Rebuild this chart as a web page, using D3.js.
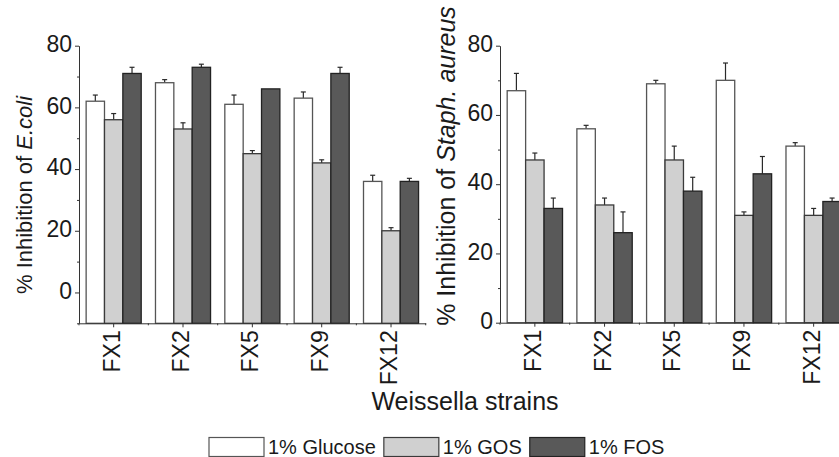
<!DOCTYPE html>
<html>
<head>
<meta charset="utf-8">
<script src="https://cdn.jsdelivr.net/npm/d3@7/dist/d3.min.js"></script>
<style>
body{margin:0;background:#fff;}
svg text{font-family:"Liberation Sans", Arial, sans-serif;fill:#1a1a1a;white-space:pre;}
</style>
</head>
<body>
<div id="chart"></div>
<script>
// strains and sugar treatments
var strains = ["FX1", "FX2", "FX5", "FX9", "FX12"];
var sugars = ["1% Glucose", "1% GOS", "1% FOS"];

// % inhibition of E.coli (left panel), upper error bar size
var ecoliGlucose = [62, 68, 61, 63, 36];
var ecoliGOS = [56, 53, 45, 42, 20];
var ecoliFOS = [71, 73, 66, 71, 36];
var ecoliGlucoseErr = [2, 1, 3, 2, 2];
var ecoliGOSErr = [2, 2, 1, 1, 1];
var ecoliFOSErr = [2, 1, 0, 2, 1];

// % inhibition of Staph. aureus (right panel)
var staphGlucose = [67, 56, 69, 70, 51];
var staphGOS = [47, 34, 47, 31, 31];
var staphFOS = [33, 26, 38, 43, 35];
var staphGlucoseErr = [5, 1, 1, 5, 1];
var staphGOSErr = [2, 2, 4, 1, 2];
var staphFOSErr = [3, 6, 4, 5, 1];

var yTicks = [0, 20, 40, 60, 80];
var ecoliMinor = [-10, 10, 30, 50, 70];
var staphMinor = [10, 30, 50, 70];

var WIDTH = 839, HEIGHT = 457;
var FILLS = ["#ffffff", "#d0d0d0", "#595959"];
var STROKES = ["#555555", "#3a3a3a", "#222222"];
var AXIS = "#333";

var svg = d3.select("#chart").append("svg")
	.attr("width", WIDTH)
	.attr("height", HEIGHT);

function panel(cfg){
	var g = svg.append("g");
	var x = d3.scaleBand().domain(strains).range([cfg.left, cfg.right]);
	var bw = x.bandwidth();
	var xs = d3.scaleBand().domain(sugars).range([bw * 0.103, bw * 0.897]);
	var y = d3.scaleLinear().domain(cfg.domain).range([cfg.bottom, cfg.top]);

	var rows = [];
	strains.forEach(function(s, i){
		sugars.forEach(function(k, j){
			rows.push({strain: s, sugar: k, j: j, v: cfg.values[j][i], e: cfg.errors[j][i]});
		});
	});

	// error bars first so the bar outline sits over the stem
	var eb = g.append("g").selectAll("g").data(rows.filter(function(d){ return d.e > 0; }))
		.enter().append("g")
		.attr("stroke", "#2a2a2a").attr("stroke-width", 1.2);
	eb.append("line")
		.attr("x1", function(d){ return x(d.strain) + xs(d.sugar) + xs.bandwidth() / 2; })
		.attr("x2", function(d){ return x(d.strain) + xs(d.sugar) + xs.bandwidth() / 2; })
		.attr("y1", function(d){ return y(d.v); })
		.attr("y2", function(d){ return y(d.v + d.e); });
	eb.append("line")
		.attr("x1", function(d){ return x(d.strain) + xs(d.sugar) + xs.bandwidth() / 2 - 2.5; })
		.attr("x2", function(d){ return x(d.strain) + xs(d.sugar) + xs.bandwidth() / 2 + 2.5; })
		.attr("y1", function(d){ return y(d.v + d.e); })
		.attr("y2", function(d){ return y(d.v + d.e); });

	g.append("g").selectAll("rect").data(rows)
		.enter().append("rect")
		.attr("x", function(d){ return x(d.strain) + xs(d.sugar); })
		.attr("width", xs.bandwidth())
		.attr("y", function(d){ return y(d.v); })
		.attr("height", function(d){ return cfg.bottom - y(d.v); })
		.attr("fill", function(d){ return FILLS[d.j]; })
		.attr("stroke", function(d){ return STROKES[d.j]; })
		.attr("stroke-width", 1.3);

	// y axis
	var ya = g.append("g").attr("transform", "translate(" + cfg.left + ",0)")
		.call(d3.axisLeft(y).tickValues(yTicks).tickSize(4).tickSizeOuter(0).tickPadding(3));
	ya.selectAll("text").attr("font-size", 23).attr("dy", "0.25em");
	g.append("g").attr("transform", "translate(" + cfg.left + ",0)")
		.call(d3.axisLeft(y).tickValues(cfg.minor).tickSize(2).tickSizeOuter(0).tickFormat(""))
		.select(".domain").remove();

	// x axis
	var xa = g.append("g").attr("transform", "translate(0," + cfg.bottom + ")")
		.call(d3.axisBottom(x).tickSize(4).tickSizeOuter(0));
	xa.selectAll("text")
		.attr("font-size", 23)
		.attr("transform", "rotate(-90)")
		.attr("text-anchor", "end")
		.attr("x", -7).attr("y", -2).attr("dy", "0.35em");
	g.append("g").selectAll("line").data(d3.range(strains.length + 1))
		.enter().append("line")
		.attr("x1", function(i){ return cfg.left + i * bw; })
		.attr("x2", function(i){ return cfg.left + i * bw; })
		.attr("y1", cfg.bottom).attr("y2", cfg.bottom + 2)
		.attr("stroke", AXIS);

	g.selectAll(".domain, .tick line").attr("stroke", AXIS);

	// axis title
	var t = g.append("text")
		.attr("transform", "translate(" + cfg.labelX + "," + cfg.labelY + ")rotate(-90)")
		.attr("text-anchor", "middle")
		.attr("font-size", cfg.labelSize);
	t.append("tspan").text(cfg.label[0]);
	t.append("tspan").attr("font-style", "italic").text(cfg.label[1]);
}

panel({
	left: 79, right: 425.7, top: 45.7, bottom: 323.3, domain: [-10, 80],
	values: [ecoliGlucose, ecoliGOS, ecoliFOS],
	errors: [ecoliGlucoseErr, ecoliGOSErr, ecoliFOSErr],
	minor: ecoliMinor,
	label: ["% Inhibition of ", "E.coli"], labelX: 32, labelY: 195, labelSize: 22
});

panel({
	left: 500, right: 848.5, top: 45.7, bottom: 322.7, domain: [0, 80],
	values: [staphGlucose, staphGOS, staphFOS],
	errors: [staphGlucoseErr, staphGOSErr, staphFOSErr],
	minor: staphMinor,
	label: ["% Inhibition of ", "Staph. aureus"], labelX: 455, labelY: 166, labelSize: 25
});

svg.append("text")
	.attr("x", 465).attr("y", 410)
	.attr("text-anchor", "middle")
	.attr("font-size", 25)
	.text("Weissella strains");

// legend
var lx = 209;
var leg = svg.append("g");
sugars.forEach(function(s, j){
	leg.append("rect")
		.attr("x", lx).attr("y", 437.5)
		.attr("width", 55).attr("height", 19)
		.attr("fill", FILLS[j]).attr("stroke", STROKES[j]).attr("stroke-width", 1.2);
	var tx = leg.append("text")
		.attr("x", lx + 59).attr("y", 454.3)
		.attr("font-size", 20)
		.text(s);
	lx = lx + 59 + tx.node().getComputedTextLength() + 8;
});
</script>
</body>
</html>
